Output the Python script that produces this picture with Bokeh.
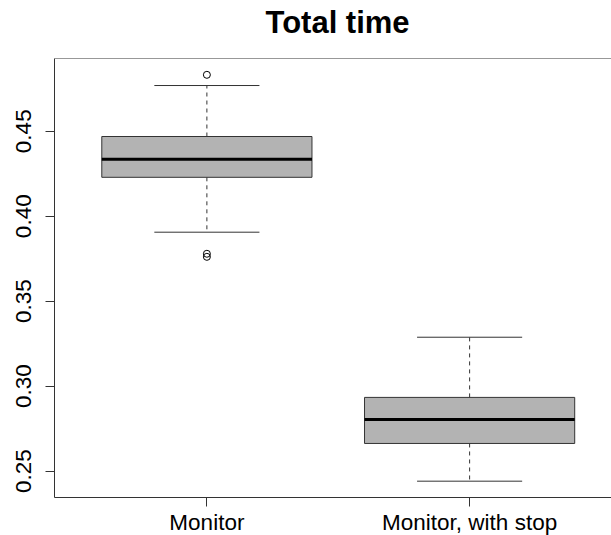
from bokeh.plotting import figure
from bokeh.models import FixedTicker, NumeralTickFormatter, Span, Range1d, Title
from bokeh.embed import file_html
from bokeh.resources import INLINE

# ---- data ----
title_text = "Total time"
categories = ["Monitor", "Monitor, with stop"]
q1 = [0.4229, 0.2663]
median = [0.4335, 0.2804]
q3 = [0.4469, 0.2934]
whisker_lo = [0.3906, 0.2441]
whisker_hi = [0.4769, 0.3288]
outlier_group = [1, 1, 1]
outlier_value = [0.4832, 0.3779, 0.3761]
y_ticks = [0.25, 0.30, 0.35, 0.40, 0.45]

positions = [i + 1 for i in range(len(categories))]

FONT = "Liberation Sans"
Y0, Y1 = 0.2345, 0.4928

p = figure(
    frame_width=557, frame_height=439,
    min_border_left=54, min_border_right=0, min_border_top=58, min_border_bottom=38,
    x_range=Range1d(0.42, 2.54), y_range=Range1d(Y0, Y1),
    output_backend="svg", toolbar_location=None,
)
p.background_fill_color = "white"
p.border_fill_color = "white"
p.outline_line_color = None
p.grid.visible = False

# spacer panel between frame and title (closest to the frame)
p.add_layout(Title(text=" ", text_font_size="1px", standoff=15), "above")
# main title
p.add_layout(Title(text=title_text, text_font=FONT, text_font_size="31px",
                   text_font_style="bold", align="left", offset=211, standoff=2,
                   text_color="black"), "above")

LC = "#333333"
# whiskers (dashed)
p.segment(x0=positions, y0=q3, x1=positions, y1=whisker_hi, line_color=LC,
          line_width=1, line_dash="4 4")
p.segment(x0=positions, y0=q1, x1=positions, y1=whisker_lo, line_color=LC,
          line_width=1, line_dash="4 4")
# staples
p.segment(x0=[x - 0.2 for x in positions], y0=whisker_hi,
          x1=[x + 0.2 for x in positions], y1=whisker_hi, line_color=LC, line_width=1)
p.segment(x0=[x - 0.2 for x in positions], y0=whisker_lo,
          x1=[x + 0.2 for x in positions], y1=whisker_lo, line_color=LC, line_width=1)
# boxes
p.vbar(x=positions, width=0.8, bottom=q1, top=q3, fill_color="#B3B3B3",
       line_color=LC, line_width=1)
# medians
p.segment(x0=[x - 0.4 for x in positions], y0=median,
          x1=[x + 0.4 for x in positions], y1=median, line_color="black", line_width=3)
# outliers
p.scatter(x=outlier_group, y=outlier_value, marker="circle", size=7,
          fill_color=None, line_color="black", line_width=1)

# top frame line
p.add_layout(Span(location=Y1, dimension="width", line_color=LC, line_width=1))

# axes
for ax in (p.xaxis[0], p.yaxis[0]):
    ax.axis_line_color = LC
    ax.major_tick_line_color = LC
    ax.minor_tick_line_color = None
    ax.major_tick_in = 0
    ax.major_tick_out = 9
    ax.major_label_text_font = FONT
    ax.major_label_text_font_size = "22.5px"
    ax.major_label_text_color = "black"

p.xaxis.ticker = FixedTicker(ticks=positions)
p.xaxis.major_label_overrides = {pos: c for pos, c in zip(positions, categories)}
p.xaxis.major_label_standoff = 3

p.yaxis.ticker = FixedTicker(ticks=y_ticks)
p.yaxis.formatter = NumeralTickFormatter(format="0.00")
p.yaxis.major_label_orientation = "vertical"
p.yaxis.major_label_standoff = 14

open("out.html", "w").write(file_html(p, INLINE))
